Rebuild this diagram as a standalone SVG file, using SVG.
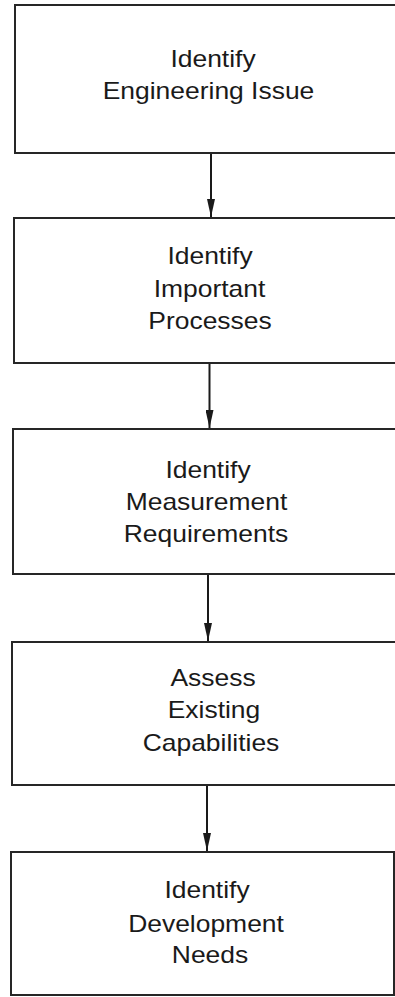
<svg xmlns="http://www.w3.org/2000/svg" width="395" height="997" viewBox="0 0 395 997">
<style>
.box{fill:#ffffff;stroke:#262626;stroke-width:2}
.lbl{font-family:"Liberation Sans",Arial,sans-serif;font-size:23px;fill:#1a1a1a;text-anchor:middle}
.conn{stroke:#1a1a1a;stroke-width:2;fill:none}
</style>
<defs>
<marker id="ah" markerWidth="18" markerHeight="8" refX="18" refY="4" orient="auto" markerUnits="userSpaceOnUse" viewBox="0 0 18 8">
<path d="M0,0 L18,4 L0,8 Z" fill="#1a1a1a"/>
</marker>
</defs>
<rect width="395" height="997" fill="#ffffff"/>
<g id="n1">
<rect class="box" x="15" y="5" width="400" height="148"/>
<text class="lbl" transform="matrix(1.15 0 0 1 213 0)" y="67">Identify</text>
<text class="lbl" transform="matrix(1.15 0 0 1 208.5 0)" y="99">Engineering Issue</text>
</g>
<g id="n2">
<rect class="box" x="14" y="218" width="400" height="145"/>
<text class="lbl" transform="matrix(1.15 0 0 1 210 0)" y="264">Identify</text>
<text class="lbl" transform="matrix(1.15 0 0 1 209.5 0)" y="297">Important</text>
<text class="lbl" transform="matrix(1.15 0 0 1 210 0)" y="329">Processes</text>
</g>
<g id="n3">
<rect class="box" x="13" y="429" width="400" height="145"/>
<text class="lbl" transform="matrix(1.15 0 0 1 208 0)" y="478">Identify</text>
<text class="lbl" transform="matrix(1.15 0 0 1 206.5 0)" y="510">Measurement</text>
<text class="lbl" transform="matrix(1.15 0 0 1 206 0)" y="542">Requirements</text>
</g>
<g id="n4">
<rect class="box" x="12" y="642" width="400" height="143"/>
<text class="lbl" transform="matrix(1.15 0 0 1 213 0)" y="686">Assess</text>
<text class="lbl" transform="matrix(1.15 0 0 1 214 0)" y="718">Existing</text>
<text class="lbl" transform="matrix(1.15 0 0 1 211 0)" y="751">Capabilities</text>
</g>
<g id="n5">
<rect class="box" x="11" y="852" width="383" height="143"/>
<text class="lbl" transform="matrix(1.15 0 0 1 207 0)" y="898">Identify</text>
<text class="lbl" transform="matrix(1.15 0 0 1 206 0)" y="932">Development</text>
<text class="lbl" transform="matrix(1.15 0 0 1 210 0)" y="963">Needs</text>
</g>
<g id="connectors">
<line class="conn" x1="211" y1="154" x2="211" y2="217" marker-end="url(#ah)"/>
<line class="conn" x1="209.5" y1="364" x2="209.5" y2="428" marker-end="url(#ah)"/>
<line class="conn" x1="208" y1="575" x2="208" y2="641" marker-end="url(#ah)"/>
<line class="conn" x1="207" y1="786" x2="207" y2="851" marker-end="url(#ah)"/>
</g>
</svg>
